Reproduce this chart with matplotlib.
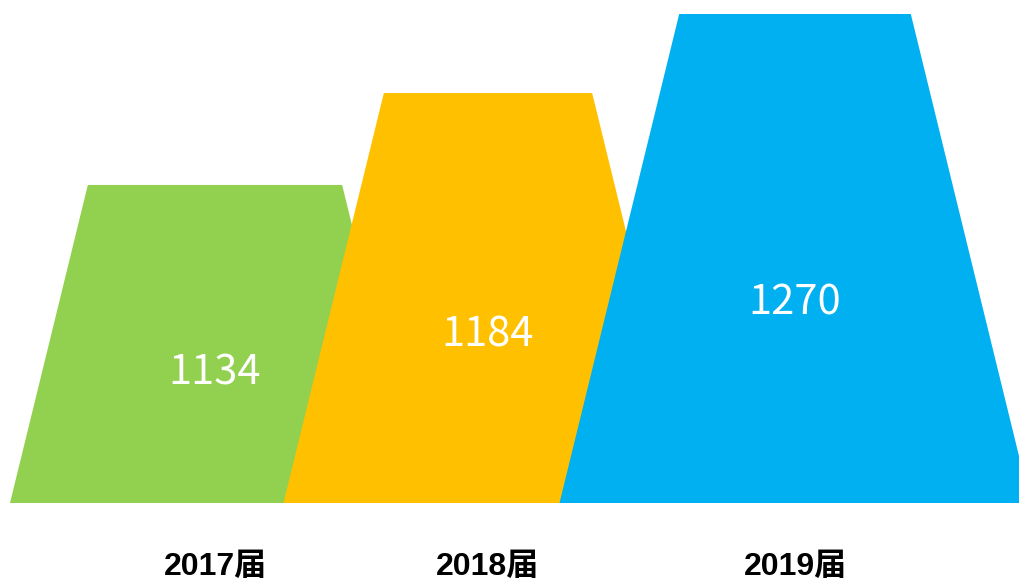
import numpy as np
import matplotlib
matplotlib.use("Agg")
import matplotlib.pyplot as plt
from matplotlib.patches import Polygon

plt.rcParams['font.family'] = ['Liberation Sans', 'Noto Sans CJK SC', 'DejaVu Sans']

# data
years = ['2017届', '2018届', '2019届']
counts = [1134, 1184, 1270]
colors = ['#92D050', '#FFC000', '#00B0F0']

# layout of the trapezoids (x in axis units, 0..1020)
centers = [215, 488, 795]
bottom_w = [410, 409, 471]
side = 0.45          # horizontal inset per unit of value
y_base, y_top = 961, 1227

fig = plt.figure(figsize=(10.2, 5.81), dpi=100)
ax = fig.add_axes([0, 78/581, 1, 489/581])
ax.set_xlim(0, 1020)
ax.set_ylim(y_base, y_top)

for c, bw, v, col in zip(centers, bottom_w, counts, colors):
    inset = side * (v - y_base)
    pts = [(c - bw/2, y_base), (c + bw/2, y_base),
           (c + bw/2 - inset, v), (c - bw/2 + inset, v)]
    ax.add_patch(Polygon(pts, closed=True, facecolor=col, edgecolor='none'))
    ly = y_base + 0.41 * (min(v, y_top) - y_base)
    ax.text(c, ly, str(v), color='white', fontsize=30, ha='center', va='center',
            family=['Noto Sans CJK SC', 'DejaVu Sans'])

ax.set_xticks(centers, years, fontsize=23, fontweight='bold')
ax.tick_params(axis='x', length=0, pad=35)
ax.set_yticks([])
for s in ax.spines.values():
    s.set_visible(False)

fig.savefig('out.png', dpi=100)
